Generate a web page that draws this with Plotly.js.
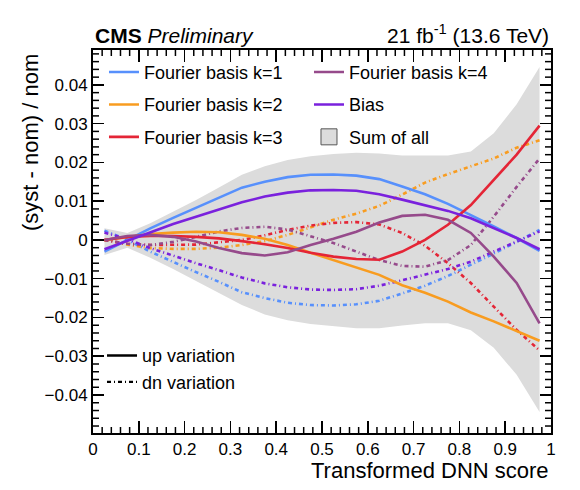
<!DOCTYPE html>
<html>
<head>
<meta charset="utf-8">
<script src="https://cdn.plot.ly/plotly-3.0.1.min.js"></script>
<style>html,body{margin:0;padding:0;background:#fff;} #chart{width:580px;height:490px;}</style>
</head>
<body>
<div id="chart"></div>
<script>
// bin centres of the transformed DNN score
const xBins = [0.025, 0.075, 0.125, 0.175, 0.225, 0.275, 0.325, 0.375, 0.425, 0.475,
               0.525, 0.575, 0.625, 0.675, 0.725, 0.775, 0.825, 0.875, 0.925, 0.975];

// Fourier basis k=1
const k1Up = [-0.003, 0.0, 0.003, 0.0057, 0.0083, 0.0108, 0.0135, 0.015, 0.0162, 0.0168,
              0.0169, 0.0166, 0.0157, 0.0138, 0.0118, 0.0093, 0.0065, 0.0035, 0.0005, -0.0028];
const k1Dn = [0.0024, 0.0, -0.003, -0.0057, -0.0083, -0.0108, -0.0135, -0.015, -0.0162, -0.0168,
              -0.0169, -0.0166, -0.0157, -0.0138, -0.0118, -0.0093, -0.0065, -0.0035, -0.0005, 0.0026];
// Fourier basis k=2
const k2Up = [0.0, 0.0008, 0.0015, 0.0019, 0.0021, 0.002, 0.0013, 0.0003, -0.0013, -0.0033,
              -0.0052, -0.0071, -0.009, -0.0117, -0.0136, -0.0159, -0.0187, -0.021, -0.0236, -0.026];
const k2Dn = [0.0, -0.0012, -0.0021, -0.0023, -0.0023, -0.002, -0.0013, -0.0003, 0.0013, 0.0033,
              0.0052, 0.0068, 0.0088, 0.0117, 0.0148, 0.017, 0.0189, 0.021, 0.0238, 0.0257];
// Fourier basis k=3
const k3Up = [0.0, 0.0008, 0.001, 0.001, 0.0008, 0.0004, -0.0003, -0.0011, -0.0021, -0.0033,
              -0.0043, -0.0049, -0.0051, -0.003, 0.0, 0.0039, 0.009, 0.0155, 0.022, 0.0295];
const k3Dn = [0.0, -0.001, -0.0013, -0.0013, -0.0012, -0.0006, 0.0, 0.0012, 0.0026, 0.0037,
              0.0044, 0.0046, 0.004, 0.0018, -0.0015, -0.006, -0.0111, -0.0172, -0.0232, -0.0285];
// Fourier basis k=4
const k4Up = [0.0, 0.001, 0.0013, 0.0008, -0.0004, -0.0021, -0.0034, -0.004, -0.0032, -0.0013,
              0.0003, 0.0021, 0.0045, 0.0062, 0.0065, 0.0052, 0.0018, -0.0043, -0.0111, -0.0215];
const k4Dn = [0.0, -0.001, -0.0013, -0.0005, 0.0008, 0.0022, 0.0031, 0.0034, 0.0027, 0.001,
              -0.0008, -0.003, -0.0052, -0.0067, -0.0069, -0.0052, -0.0013, 0.006, 0.0137, 0.021];
// Bias
const biasUp = [-0.0024, -0.0002, 0.0021, 0.0041, 0.006, 0.0078, 0.0097, 0.0112, 0.0122, 0.0128,
                0.0129, 0.0127, 0.0118, 0.0104, 0.009, 0.0075, 0.0056, 0.003, 0.0005, -0.0024];
const biasDn = [0.0019, 0.0002, -0.0021, -0.0041, -0.006, -0.0078, -0.0097, -0.0112, -0.0122, -0.0128,
                -0.0129, -0.0127, -0.0118, -0.0104, -0.009, -0.0075, -0.0056, -0.003, -0.0005, 0.0022];
// Sum of all (envelope)
const sumUp = [0.003, 0.0018, 0.0043, 0.0072, 0.0103, 0.0135, 0.0168, 0.019, 0.0206, 0.0216,
               0.0222, 0.0225, 0.0223, 0.0218, 0.0218, 0.0218, 0.0228, 0.0275, 0.035, 0.0446];
const sumDn = [-0.0039, -0.002, -0.0046, -0.0075, -0.0106, -0.0136, -0.0168, -0.0192, -0.0207, -0.0217,
               -0.0222, -0.0228, -0.0228, -0.0221, -0.0215, -0.0215, -0.0233, -0.0278, -0.0348, -0.0444];

const seriesNames = ['Fourier basis k=1', 'Fourier basis k=2', 'Fourier basis k=3', 'Fourier basis k=4', 'Bias'];
const seriesColors = ['#5790fc', '#f89c20', '#e42536', '#964a8b', '#7a21dd'];
const upSeries = [k1Up, k2Up, k3Up, k4Up, biasUp];
const dnSeries = [k1Dn, k2Dn, k3Dn, k4Dn, biasDn];
const legendOf = ['legend', 'legend', 'legend', 'legend2', 'legend2'];

const X_RANGE = [0, 1];
const Y_RANGE = [-0.0498, 0.049];
const DASH_DN = '4px,3px,1px,3px';
const LW = 2.6;
const FONT = 'Liberation Sans, Arial, Helvetica, sans-serif';

const traces = [];
// band
traces.push({
  x: xBins.concat(xBins.slice().reverse()),
  y: sumUp.concat(sumDn.slice().reverse()),
  type: 'scatter', mode: 'lines', fill: 'toself',
  fillcolor: '#dcdcdc', line: {width: 0, color: '#dcdcdc'},
  showlegend: false, hoverinfo: 'skip'
});
// down variations
for (let i = 0; i < seriesNames.length; i++) {
  traces.push({
    x: xBins, y: dnSeries[i], type: 'scatter', mode: 'lines',
    name: seriesNames[i] + ' dn', legendgroup: 'g' + i, showlegend: false,
    line: {color: seriesColors[i], width: LW, dash: DASH_DN}
  });
}
// up variations
for (let i = 0; i < seriesNames.length; i++) {
  traces.push({
    x: xBins, y: upSeries[i], type: 'scatter', mode: 'lines',
    name: seriesNames[i], legendgroup: 'g' + i, legend: legendOf[i],
    line: {color: seriesColors[i], width: LW}
  });
}
// legend-only entries
traces.push({x: [null], y: [null], type: 'scatter', mode: 'markers', name: 'Sum of all',
  legendgroup: 'gsum', legend: 'legend2',
  marker: {symbol: 'square', size: 16, color: '#dcdcdc', line: {color: '#555555', width: 1}}});
traces.push({x: [null], y: [null], type: 'scatter', mode: 'lines', name: 'up variation',
  legendgroup: 'gup', legend: 'legend3', line: {color: '#000', width: 2.4}});
traces.push({x: [null], y: [null], type: 'scatter', mode: 'lines', name: 'dn variation',
  legendgroup: 'gdn', legend: 'legend3', line: {color: '#000', width: 2.4, dash: DASH_DN}});

// minor tick marks (axis decoration), placed through the axis scales
const MINOR_LEN = 6;
const minorTickStyle = {color: '#000', width: 1.5};
const shapes = [];
for (let k = 1; k < 50; k++) {
  if (k % 5 === 0) continue;
  const v = k * 0.02;
  shapes.push({type: 'line', xref: 'x', yref: 'paper', ysizemode: 'pixel', yanchor: 0,
               x0: v, x1: v, y0: 0, y1: MINOR_LEN, line: minorTickStyle});
  shapes.push({type: 'line', xref: 'x', yref: 'paper', ysizemode: 'pixel', yanchor: 1,
               x0: v, x1: v, y0: 0, y1: -MINOR_LEN, line: minorTickStyle});
}
for (let k = -24; k <= 24; k++) {
  if (k % 5 === 0) continue;
  const v = k * 0.002;
  shapes.push({type: 'line', yref: 'y', xref: 'paper', xsizemode: 'pixel', xanchor: 0,
               y0: v, y1: v, x0: 0, x1: MINOR_LEN, line: minorTickStyle});
  shapes.push({type: 'line', yref: 'y', xref: 'paper', xsizemode: 'pixel', xanchor: 1,
               y0: v, y1: v, x0: 0, x1: -MINOR_LEN, line: minorTickStyle});
}

const legendBase = {
  bgcolor: 'rgba(0,0,0,0)', borderwidth: 0, font: {family: FONT, size: 18, color: '#000'},
  xanchor: 'left', yanchor: 'top', orientation: 'v', traceorder: 'grouped', itemclick: false
};

const tickFont = {family: FONT, size: 17, color: '#000'};

const layout = {
  width: 580, height: 490,
  margin: {l: 93, r: 29, t: 50, b: 57, pad: 0},
  paper_bgcolor: '#fff', plot_bgcolor: '#fff',
  font: {family: FONT, color: '#000'},
  xaxis: {
    range: X_RANGE, dtick: 0.1, tick0: 0, ticks: 'inside', ticklen: 12, tickwidth: 1.5, tickcolor: '#000',
    showline: true, linewidth: 2, linecolor: '#000', mirror: 'ticks', showgrid: false, zeroline: false,
    tickfont: tickFont
  },
  yaxis: {
    range: Y_RANGE, dtick: 0.01, tick0: 0, ticks: 'inside', ticklen: 11, tickwidth: 1.5, tickcolor: '#000',
    showline: true, linewidth: 2, linecolor: '#000', mirror: 'ticks', showgrid: false, zeroline: false,
    tickfont: tickFont
  },
  shapes: shapes,
  legend: Object.assign({}, legendBase, {x: 0.024, y: 0.99, tracegroupgap: 6}),
  legend2: Object.assign({}, legendBase, {x: 0.4716, y: 0.99, tracegroupgap: 6}),
  legend3: Object.assign({}, legendBase, {x: 0.0197, y: 0.25, tracegroupgap: 0}),
  annotations: [
    {xref: 'paper', yref: 'paper', x: 0, y: 1, xanchor: 'left', yanchor: 'bottom', yshift: 1,
     text: '<b>CMS</b> <i>Preliminary</i>', showarrow: false, font: {family: FONT, size: 21, color: '#000'}},
    {xref: 'paper', yref: 'paper', x: 1, y: 1, xanchor: 'right', yanchor: 'bottom', yshift: 1,
     text: '21 fb<sup>-1</sup> (13.6 TeV)', showarrow: false, font: {family: FONT, size: 21, color: '#000'}},
    {xref: 'paper', yref: 'paper', x: 1, y: 0, xanchor: 'right', yanchor: 'top', yshift: -23,
     text: 'Transformed DNN score', showarrow: false, font: {family: FONT, size: 22, color: '#000'}},
    {xref: 'paper', yref: 'paper', x: 0, y: 1, xanchor: 'right', yanchor: 'top', xshift: -48, yshift: -2,
     text: '(syst - nom) / nom', textangle: -90, showarrow: false, font: {family: FONT, size: 22, color: '#000'}}
  ]
};

Plotly.newPlot('chart', traces, layout, {displayModeBar: false, staticPlot: true});
</script>
</body>
</html>
